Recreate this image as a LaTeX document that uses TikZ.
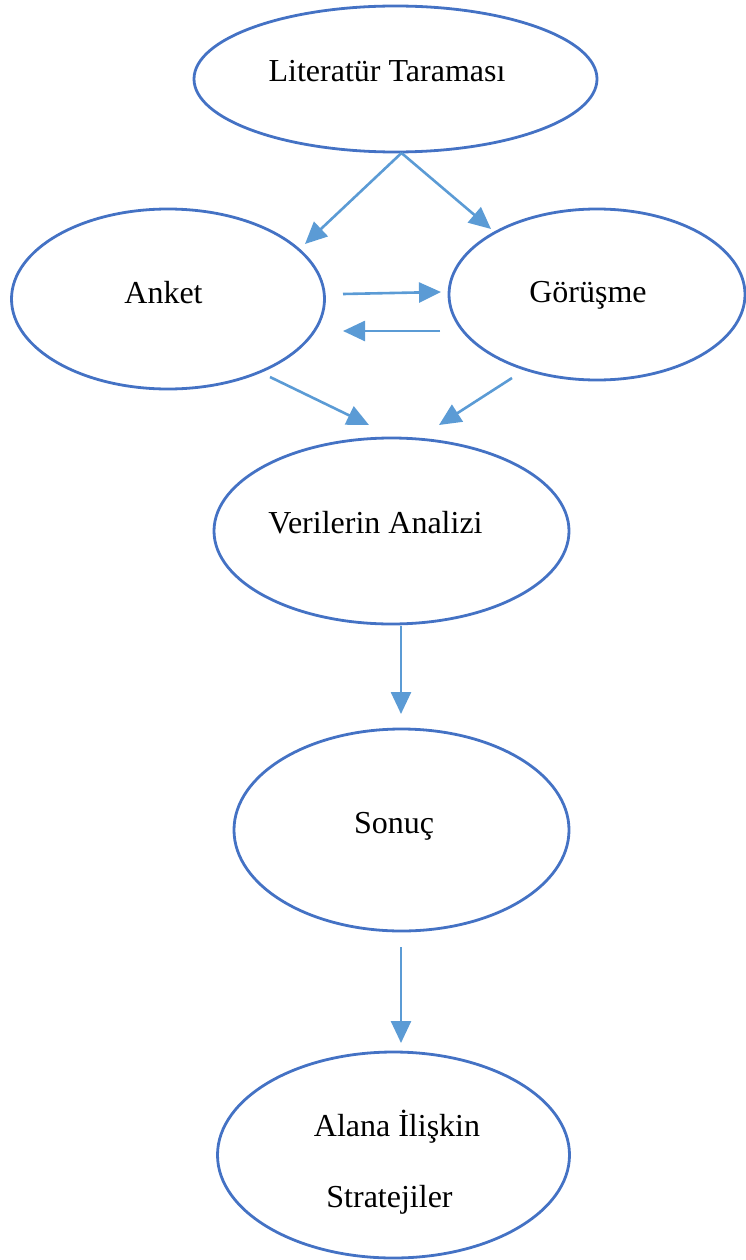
\documentclass[tikz,border=0pt]{standalone}
\usepackage{fontspec}
\setmainfont{Liberation Serif}
\usetikzlibrary{shapes.geometric,arrows.meta}
\definecolor{edgeblue}{HTML}{4472C4}
\definecolor{arrblue}{HTML}{5B9BD5}
\begin{document}
\begin{tikzpicture}[x=1pt,y=-1pt,
  ell/.style={draw=edgeblue,line width=2.8pt,ellipse,inner sep=0pt},
  lbl/.style={font=\fontsize{32}{38}\selectfont,inner sep=0pt,anchor=base},
  conn/.style={draw=arrblue,line width=2.6pt,-{Triangle[length=22pt,width=20pt]}}]
\useasboundingbox (0,0) rectangle (745,1260);
% ellipses
\node[ell,minimum width=403pt,minimum height=146pt] (lit) at (395.5,79) {};
\node[ell,minimum width=313pt,minimum height=180pt] (anket) at (168,299) {};
\node[ell,minimum width=296pt,minimum height=171pt] (gor) at (597,294.5) {};
\node[ell,minimum width=355pt,minimum height=186pt] (ver) at (391.5,531) {};
\node[ell,minimum width=335pt,minimum height=202pt] (son) at (401.5,830) {};
\node[ell,minimum width=352pt,minimum height=206pt] (ala) at (393.5,1155) {};
% labels
\node[lbl] (tlit) at (387,82) {Literatür Taraması};
\node[lbl] (tanket) at (163.5,303) {Anket};
\node[lbl] (tgor) at (588,302) {Görüşme};
\node[lbl] (tver) at (375.5,533) {Verilerin Analizi};
\node[lbl] (tson) at (394,833) {Sonuç};
\node[lbl] (tala1) at (397,1136) {Alana İlişkin};
\node[lbl] (tala2) at (389.5,1207) {Stratejiler};
% connector ends
\coordinate (litS) at (401.5,153);
\coordinate (litL) at (305,244);
\coordinate (litR) at (491,229);
\coordinate (agS) at (343,294);
\coordinate (agE) at (441,292);
\coordinate (gaS) at (440,331);
\coordinate (gaE) at (343,331);
\coordinate (avS) at (270,377);
\coordinate (avE) at (369,425);
\coordinate (gvS) at (512,378);
\coordinate (gvE) at (439,425);
\coordinate (vsS) at (401,626);
\coordinate (vsE) at (401,714);
\coordinate (saS) at (401,947);
\coordinate (saE) at (401,1043);
% connectors
\draw[conn] (litS) -- (litL);
\draw[conn] (litS) -- (litR);
\draw[conn] (agS) -- (agE);
\draw[conn] (gaS) -- (gaE);
\draw[conn] (avS) -- (avE);
\draw[conn] (gvS) -- (gvE);
\draw[conn] (vsS) -- (vsE);
\draw[conn] (saS) -- (saE);
\end{tikzpicture}
\end{document}
